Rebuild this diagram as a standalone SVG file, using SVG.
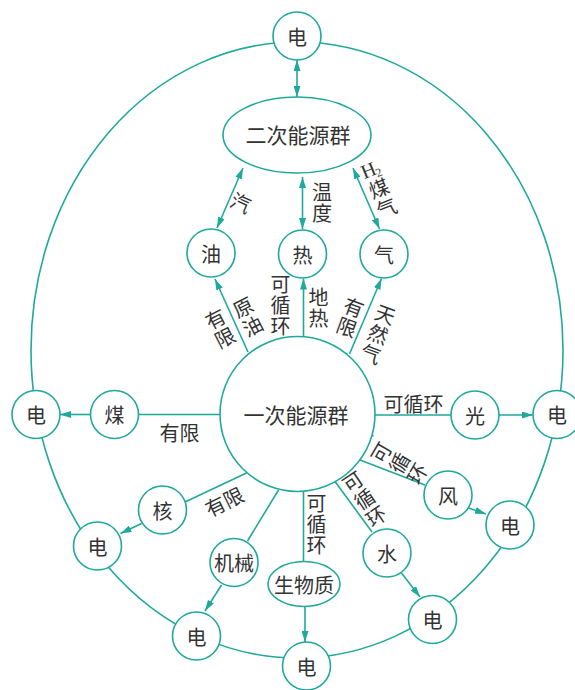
<svg xmlns="http://www.w3.org/2000/svg" width="575" height="690" viewBox="0 0 575 690">
<style>
.node circle, .node ellipse { fill:#fff; stroke:#1fa99b; stroke-width:1.6; }
.conn line, .conn ellipse, .conn path { stroke:#1fa99b; stroke-width:1.6; fill:none; }
text { font-family:"Noto Sans CJK SC","Noto Sans CJK JP",sans-serif; font-size:20px; fill:#333; text-anchor:middle; dominant-baseline:central; }
.big { font-size:21px; }
.v { writing-mode:vertical-rl; letter-spacing:1px; }
.h2 { font-family:"Liberation Serif",serif; font-size:20px; }
.sub { font-family:"Liberation Serif",serif; font-size:12px; }
.arr { marker-end:url(#ah); }
.arr2 { marker-start:url(#ah); marker-end:url(#ah); }
</style>
<defs>
<marker id="ah" viewBox="0 0 11 7" refX="11" refY="3.5" markerWidth="11" markerHeight="7" markerUnits="userSpaceOnUse" orient="auto-start-reverse">
<path d="M0,0 L11,3.5 L0,7 z" fill="#1fa99b"/>
</marker>
</defs>

<g id="connectors" class="conn">
<ellipse cx="297" cy="350" rx="266" ry="308"/>
<line class="arr2" x1="297" y1="60" x2="297" y2="97"/>
<line x1="297" y1="97" x2="297" y2="116"/>
<line x1="255" y1="166" x2="283" y2="147"/>
<line x1="339" y1="166" x2="311" y2="147"/>
<line class="arr2" x1="243" y1="168" x2="217" y2="228"/>
<line class="arr2" x1="302.5" y1="177" x2="302.5" y2="229"/>
<line class="arr2" x1="353" y1="168" x2="379.5" y2="229"/>
<line class="arr" x1="248" y1="352" x2="215" y2="279"/>
<line class="arr" x1="303.5" y1="336" x2="303.5" y2="278.5"/>
<line class="arr" x1="349.5" y1="354" x2="381.5" y2="278.5"/>
<line x1="241" y1="362" x2="282" y2="397"/>
<line x1="289" y1="337" x2="296" y2="398"/>
<line x1="347" y1="353" x2="309" y2="399"/>
<line x1="374" y1="397" x2="357" y2="400"/>
<line x1="343" y1="427" x2="373.5" y2="436"/>
<line x1="307" y1="427" x2="345" y2="473"/>
<line x1="298.5" y1="427" x2="307" y2="491"/>
<line x1="296.5" y1="427" x2="290.5" y2="491.5"/>
<line x1="295" y1="427" x2="273.5" y2="488"/>
<line x1="282" y1="428" x2="245" y2="467"/>
<line x1="138.5" y1="414.5" x2="220" y2="414.5"/>
<line class="arr" x1="90.5" y1="414.5" x2="60" y2="414.5"/>
<line x1="375" y1="415" x2="451" y2="415"/>
<line class="arr" x1="499" y1="415" x2="533" y2="415"/>
<line x1="246.5" y1="473" x2="185" y2="502"/>
<line class="arr" x1="141.5" y1="523.5" x2="120.5" y2="533.5"/>
<line x1="278.5" y1="490" x2="247.5" y2="541"/>
<line class="arr" x1="221.5" y1="585" x2="205" y2="611"/>
<line x1="303.5" y1="491.5" x2="303.5" y2="561.5"/>
<line class="arr" x1="305" y1="606.5" x2="305" y2="642"/>
<line x1="335" y1="481.5" x2="372" y2="532"/>
<line class="arr" x1="401.5" y1="573" x2="420" y2="597"/>
<line x1="360" y1="460" x2="425" y2="485"/>
<line class="arr" x1="468.5" y1="508" x2="486" y2="514"/>
</g>

<g id="n-er" class="node"><ellipse cx="297" cy="135" rx="74" ry="38"/><text class="big" x="298" y="134">二次能源群</text></g>
<g id="n-yi" class="node"><circle cx="297.5" cy="414" r="77.5"/></g>
<g id="n-dian-top" class="node"><circle cx="297" cy="36" r="24"/><text x="297" y="36">电</text></g>
<g id="n-you" class="node"><circle cx="211" cy="253" r="24"/><text x="211" y="253">油</text></g>
<g id="n-re" class="node"><circle cx="302.5" cy="254" r="24"/><text x="302.5" y="254">热</text></g>
<g id="n-qi" class="node"><circle cx="384" cy="254" r="24"/><text x="384" y="254">气</text></g>
<g id="n-mei" class="node"><circle cx="114.5" cy="414.5" r="24"/><text x="114.5" y="414.5">煤</text></g>
<g id="n-dian-left" class="node"><circle cx="36" cy="414.5" r="24"/><text x="36" y="414.5">电</text></g>
<g id="n-guang" class="node"><circle cx="475" cy="415" r="24"/><text x="475" y="415">光</text></g>
<g id="n-dian-right" class="node"><circle cx="557" cy="414.5" r="24"/><text x="557" y="414.5">电</text></g>
<g id="n-he" class="node"><circle cx="162.5" cy="510" r="24"/><text x="162.5" y="510">核</text></g>
<g id="n-dian-he" class="node"><circle cx="97.5" cy="546" r="24"/><text x="97.5" y="546">电</text></g>
<g id="n-jixie" class="node"><circle cx="234" cy="562.5" r="24"/><text x="234" y="562.5">机械</text></g>
<g id="n-dian-jixie" class="node"><circle cx="196.5" cy="636" r="24"/><text x="196.5" y="636">电</text></g>
<g id="n-swz" class="node"><ellipse cx="304" cy="584" rx="36" ry="22.5"/><text x="304" y="584">生物质</text></g>
<g id="n-dian-bottom" class="node"><circle cx="306.5" cy="666" r="24"/><text x="306.5" y="666">电</text></g>
<g id="n-shui" class="node"><circle cx="387" cy="553" r="24"/><text x="387" y="553">水</text></g>
<g id="n-dian-shui" class="node"><circle cx="432.5" cy="619.5" r="24"/><text x="432.5" y="619.5">电</text></g>
<g id="n-feng" class="node"><circle cx="448" cy="495" r="24"/><text x="448" y="495">风</text></g>
<g id="n-dian-feng" class="node"><circle cx="510" cy="525" r="24"/><text x="510" y="525">电</text></g>

<g id="labels">
<text class="big" x="296" y="414">一次能源群</text>
<text x="241" y="202" transform="rotate(24 241 202)">汽</text>
<text class="v" x="322" y="203">温度</text>
<g transform="translate(371,169) rotate(-22)"><text class="h2" x="-3" y="0">H</text><text class="sub" x="6" y="6">2</text><text class="v" x="0" y="32">煤气</text></g>
<g transform="translate(215,318) rotate(-27)"><text class="v" x="0" y="12">有限</text></g>
<g transform="translate(243,307) rotate(-27)"><text class="v" x="0" y="11.5">原油</text></g>
<text class="v" x="280.5" y="306">可循环</text>
<text class="v" x="318.5" y="308.5">地热</text>
<g transform="translate(354,307) rotate(20)"><text class="v" x="0" y="11.5">有限</text></g>
<g transform="translate(385,315) rotate(20)"><text class="v" x="0" y="21">天然气</text></g>
<text x="179.5" y="432">有限</text>
<text x="413.5" y="403">可循环</text>
<text x="224" y="501" transform="rotate(-26 224 501)">有限</text>
<text class="v" x="316.5" y="525">可循环</text>
<g transform="translate(353,482) rotate(-34)"><text class="v" x="0" y="21">可循环</text></g>
<g transform="translate(382,453) rotate(-60)"><text class="v" x="0" y="20.5">可循环</text></g>
</g>
</svg>
